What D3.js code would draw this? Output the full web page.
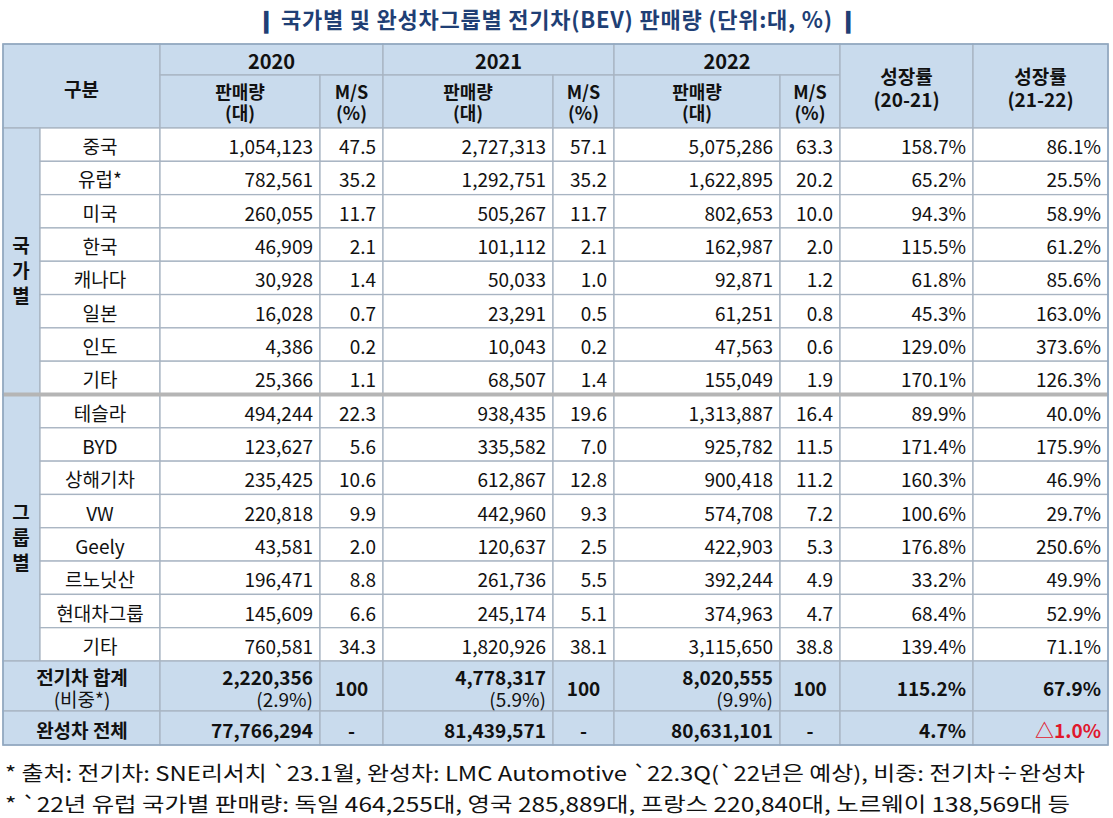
<!DOCTYPE html><html><head><meta charset="utf-8">
<script src="https://cdn.jsdelivr.net/npm/d3@7"></script>
<style>body{margin:0;background:#fff}text{font-family:"Noto Sans CJK KR",sans-serif}</style></head><body>
<script>
const countries=["중국","유럽*","미국","한국","캐나다","일본","인도","기타"];
const groups=["테슬라","BYD","상해기차","VW","Geely","르노닛산","현대차그룹","기타"];
const sales2020=[1054123,782561,260055,46909,30928,16028,4386,25366,494244,123627,235425,220818,43581,196471,145609,760581];
const ms2020=[47.5,35.2,11.7,2.1,1.4,0.7,0.2,1.1,22.3,5.6,10.6,9.9,2.0,8.8,6.6,34.3];
const sales2021=[2727313,1292751,505267,101112,50033,23291,10043,68507,938435,335582,612867,442960,120637,261736,245174,1820926];
const ms2021=[57.1,35.2,11.7,2.1,1.0,0.5,0.2,1.4,19.6,7.0,12.8,9.3,2.5,5.5,5.1,38.1];
const sales2022=[5075286,1622895,802653,162987,92871,61251,47563,155049,1313887,925782,900418,574708,422903,392244,374963,3115650];
const ms2022=[63.3,20.2,10.0,2.0,1.2,0.8,0.6,1.9,16.4,11.5,11.2,7.2,5.3,4.9,4.7,38.8];
const growth2021=[158.7,65.2,94.3,115.5,61.8,45.3,129.0,170.1,89.9,171.4,160.3,100.6,176.8,33.2,68.4,139.4];
const growth2022=[86.1,25.5,58.9,61.2,85.6,163.0,373.6,126.3,40.0,175.9,46.9,29.7,250.6,49.9,52.9,71.1];
const evTotal=[2220356,4778317,8020555], evShare=["(2.9%)","(5.9%)","(9.9%)"], evGrowth=["115.2%","67.9%"];
const allTotal=[77766294,81439571,80631101], allGrowth=["4.7%","△1.0%"];
const years=["2020","2021","2022"];

const W=1113,H=818;
const svg=d3.select("body").append("svg").attr("width",W).attr("height",H);
const fmt=d3.format(",");
const xs=[3,40,160,320,383,553,614,780,840,973,1108];
const HB="#c9dbed", LINE="#a8b4c2";
const rowY=d3.scaleBand().domain(d3.range(16)).range([128,661]).paddingInner(0);
function rect(x0,x1,y0,y1,fill){svg.append("rect").attr("x",x0).attr("y",y0).attr("width",x1-x0).attr("height",y1-y0).attr("fill",fill).attr("stroke",LINE).attr("stroke-width",1.3);}
function txt(x,y,s,o={}){const t=svg.append("text").attr("x",x).attr("y",y).attr("text-anchor",o.a||"middle").attr("dominant-baseline","central").attr("font-size",o.fs||19).attr("font-weight",o.b?"bold":"normal").attr("fill",o.c||"#111").text(s);return t;}

// title
txt(W/2,18,"❙ 국가별  및  완성차그룹별  전기차(BEV)  판매량  (단위:대,  %) ❙",{fs:22,b:true,c:"#1f3f75"}).attr("textLength",600).attr("lengthAdjust","spacing");

// header
rect(xs[0],xs[2],44,128,HB);
txt((xs[0]+xs[2])/2,88,"구분",{b:true});
years.forEach((y,i)=>{const a=xs[2+2*i],b=xs[4+2*i];
 rect(a,b,44,75,HB);txt((a+b)/2,60,y,{b:true,fs:20});
 rect(a,xs[3+2*i],75,128,HB);rect(xs[3+2*i],b,75,128,HB);
 txt((a+xs[3+2*i])/2,91,"판매량",{b:true,fs:18});txt((a+xs[3+2*i])/2,112,"(대)",{b:true,fs:18});
 txt((xs[3+2*i]+b)/2,91,"M/S",{b:true,fs:18});txt((xs[3+2*i]+b)/2,112,"(%)",{b:true,fs:18});});
[["성장률","(20-21)"],["성장률","(21-22)"]].forEach((g,i)=>{const a=xs[8+i],b=xs[9+i];
 rect(a,b,44,128,HB);txt((a+b)/2,75,g[0],{b:true});txt((a+b)/2,98,g[1],{b:true});});

// side group labels
rect(xs[0],xs[1],rowY(0),rowY(8),HB);rect(xs[0],xs[1],rowY(8),661,HB);
["국","가","별"].forEach((c,i)=>txt(21,rowY(0)+rowY.bandwidth()*(3.5+i*0.75),c,{b:true,fs:19}));
["그","룹","별"].forEach((c,i)=>txt(21,rowY(8)+rowY.bandwidth()*(3.5+i*0.75),c,{b:true,fs:19}));

const names=countries.concat(groups);
names.forEach((n,i)=>{const y0=rowY(i),y1=y0+rowY.bandwidth(),cy=(y0+y1)/2+1;
 const cells=[n,fmt(sales2020[i]),ms2020[i].toFixed(1),fmt(sales2021[i]),ms2021[i].toFixed(1),fmt(sales2022[i]),ms2022[i].toFixed(1),growth2021[i].toFixed(1)+"%",growth2022[i].toFixed(1)+"%"];
 cells.forEach((s,j)=>{const a=xs[1+j],b=xs[2+j];rect(a,b,y0,y1,"#fff");
  if(j==0)txt((a+b)/2,cy,s);else txt(b-7,cy,s,{a:"end"});});});
svg.append("line").attr("x1",xs[0]).attr("x2",xs[10]).attr("y1",rowY(8)).attr("y2",rowY(8)).attr("stroke","#b5b5b5").attr("stroke-width",4);

// totals
rect(xs[0],xs[2],661,711,HB);txt(82,676,"전기차  합계",{b:true});txt(82,698,"(비중*)");
rect(xs[0],xs[2],711,745,HB);txt(82,729,"완성차  전체",{b:true});
years.forEach((y,i)=>{const a=xs[2+2*i],m=xs[3+2*i],b=xs[4+2*i];
 rect(a,m,661,711,HB);rect(m,b,661,711,HB);
 txt(m-7,676,fmt(evTotal[i]),{a:"end",b:true});txt(m-7,698,evShare[i],{a:"end"});txt((m+b)/2,687,"100",{b:true});
 rect(a,m,711,745,HB);rect(m,b,711,745,HB);
 txt(m-7,729,fmt(allTotal[i]),{a:"end",b:true});txt((m+b)/2,729,"-",{b:true});});
[0,1].forEach(i=>{const a=xs[8+i],b=xs[9+i];rect(a,b,661,711,HB);rect(a,b,711,745,HB);
 txt(b-7,687,evGrowth[i],{a:"end",b:true});txt(b-7,729,allGrowth[i],{a:"end",b:true,c:i==1?"#e0182d":"#111"});});
svg.append("rect").attr("x",xs[0]).attr("y",44).attr("width",xs[10]-xs[0]).attr("height",701).attr("fill","none").attr("stroke","#8fa6c0").attr("stroke-width",1.5);

// notes
const notes=["* 출처: 전기차: SNE리서치 `23.1월, 완성차: LMC Automotive `22.3Q(`22년은 예상), 비중: 전기차÷완성차","* `22년 유럽 국가별 판매량: 독일 464,255대, 영국 285,889대, 프랑스 220,840대, 노르웨이 138,569대 등"];
const noteLen=[1080,1065];
notes.forEach((n,i)=>txt(5,772+i*31,n,{a:"start",fs:20,c:"#111"}).attr("textLength",noteLen[i]).attr("lengthAdjust","spacingAndGlyphs"));
</script></body></html>
